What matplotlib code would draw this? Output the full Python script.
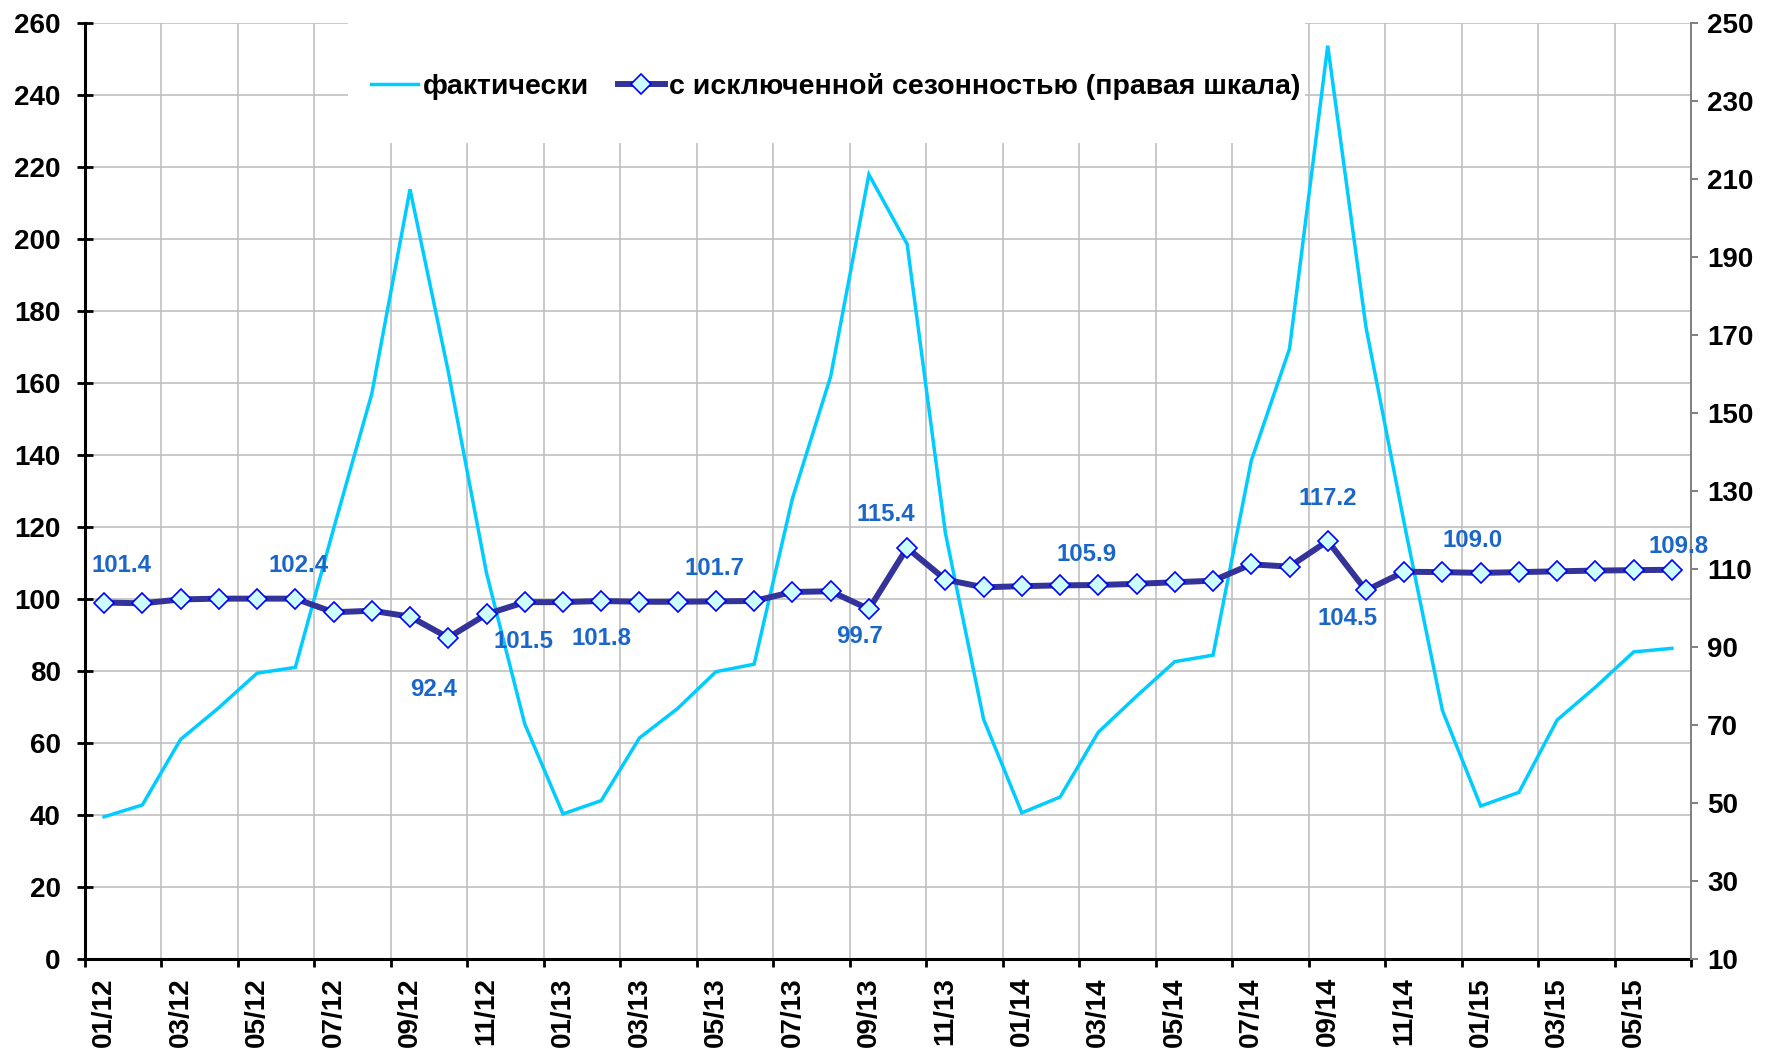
import matplotlib
matplotlib.use('Agg')
import matplotlib.pyplot as plt
from matplotlib.patches import Rectangle
import numpy as np

# ---------------- data ----------------
months = ['01/12', '02/12', '03/12', '04/12', '05/12', '06/12', '07/12', '08/12', '09/12', '10/12', '11/12', '12/12',
          '01/13', '02/13', '03/13', '04/13', '05/13', '06/13', '07/13', '08/13', '09/13', '10/13', '11/13', '12/13',
          '01/14', '02/14', '03/14', '04/14', '05/14', '06/14', '07/14', '08/14', '09/14', '10/14', '11/14', '12/14',
          '01/15', '02/15', '03/15', '04/15', '05/15', '06/15']

actual = [39.5, 42.8, 61.0, 69.8, 79.4, 81.0, 119.5, 157.0, 213.8, 163.2, 107.2, 65.3,
          40.3, 44.0, 61.4, 69.6, 79.8, 81.9, 127.9, 161.8, 217.9, 198.6, 118.4, 66.6,
          40.6, 45.0, 63.0, 73.0, 82.6, 84.4, 138.4, 169.5, 253.7, 175.5, 121.0, 69.0,
          42.5, 46.3, 66.4, 75.5, 85.3, 86.3]

seas_adj = [101.4, 101.2, 102.2, 102.4, 102.4, 102.4, 98.9, 99.3, 97.8, 92.4, 98.4, 101.5,
            101.5, 101.8, 101.6, 101.6, 101.7, 101.8, 104.1, 104.3, 99.7, 115.4, 107.3, 105.3,
            105.6, 105.8, 105.9, 106.2, 106.6, 107.0, 111.2, 110.6, 117.2, 104.5, 109.3, 109.2,
            109.0, 109.2, 109.4, 109.6, 109.7, 109.8]

label_idx = [0, 5, 9, 11, 13, 16, 20, 21, 26, 32, 33, 36, 41]

series_names = ['фактически', 'с исключенной сезонностью (правая шкала)']

# ---------------- layout / style ----------------
# label offsets in pixels (dx, dy) relative to the point
label_off_px = [(17, 37), (3, 33), (-15, -52), (-1, -39), (0, -38), (-1, 33), (-9, -27),
                (-21, 33), (-12, 30), (0, 42), (-18, -28), (-8, 32), (7, 23)]

plt.rcParams['font.family'] = ['Liberation Sans', 'DejaVu Sans']
plt.rcParams['font.weight'] = 'bold'

W, H = 1767, 1049
fig = plt.figure(figsize=(W / 100, H / 100), dpi=100)
L, R, T, B = 85, 1691, 23, 959
ax1 = fig.add_axes([L / W, 1 - B / H, (R - L) / W, (B - T) / H])
ax2 = ax1.twinx()

x = np.arange(len(months))
ax1.set_xlim(-0.5, len(months) - 0.5)
ax1.set_ylim(0, 260)
ax2.set_ylim(10, 250)
ax1.set_yticks(np.arange(0, 261, 20))
ax2.set_yticks(np.arange(10, 251, 20))

ax1.set_xticks(x[::2])
ax1.set_xticklabels(months[::2], rotation=90)
ax1.set_xticks(np.arange(-0.5, len(months), 2), minor=True)
ax1.tick_params(axis='x', which='major', length=0, pad=13, labelsize=20)
ax1.tick_params(axis='x', which='minor', length=6, width=2, direction='out', color='black')
ax1.tick_params(axis='y', direction='inout', length=12, width=2, pad=11.5, labelsize=20, color='black')
ax2.tick_params(axis='y', direction='out', length=5, width=1.4, color='#808080', pad=6.5, labelsize=20)

ax1.set_axisbelow(True)
ax1.grid(True, axis='x', which='minor', color='#C0C0C0', lw=1.2)
ax1.grid(True, axis='y', which='major', color='#C0C0C0', lw=1.2)

for s in ['top', 'right']:
    ax1.spines[s].set_visible(False)
for s in ['left', 'bottom']:
    ax1.spines[s].set_linewidth(2.2)
    ax1.spines[s].set_color('black')
for s in ['left', 'top', 'bottom']:
    ax2.spines[s].set_visible(False)
ax2.spines['right'].set_color('#808080')
ax2.spines['right'].set_linewidth(1.4)

# white legend area covering the grid
bx0, bx1, by0 = (348 - L) / (R - L), (1305 - L) / (R - L), (B - 143) / (B - T)
ax1.add_patch(Rectangle((bx0, by0), bx1 - bx0, 1 - by0, transform=ax1.transAxes,
                        facecolor='white', edgecolor='none', zorder=1))

l1, = ax1.plot(x, actual, color='#00CCFF', lw=2.5, zorder=2, solid_joinstyle='miter')
l2, = ax2.plot(x, seas_adj, color='#333399', lw=4.3, marker='D', ms=10,
               mfc='#CCFFFF', mec='#0000FF', mew=1.2, zorder=3)

for i, (dx, dy) in zip(label_idx, label_off_px):
    ax2.annotate(f"{seas_adj[i]:.1f}", (x[i], seas_adj[i]), xytext=(dx * 0.72, dy * 0.72),
                 textcoords='offset points', ha='center', va='center',
                 color='#1A66C9', fontsize=17.3, fontweight='bold')

ax2.legend([l1, l2], series_names, loc='center left',
           bbox_to_anchor=((371 - L) / (R - L), (B - 86) / (B - T)),
           ncol=2, frameon=False, prop={'size': 20.5, 'weight': 'bold'},
           handlelength=1.65, handletextpad=0.17, columnspacing=1.0,
           borderpad=0, borderaxespad=0)

fig.savefig('out.png', dpi=100)
